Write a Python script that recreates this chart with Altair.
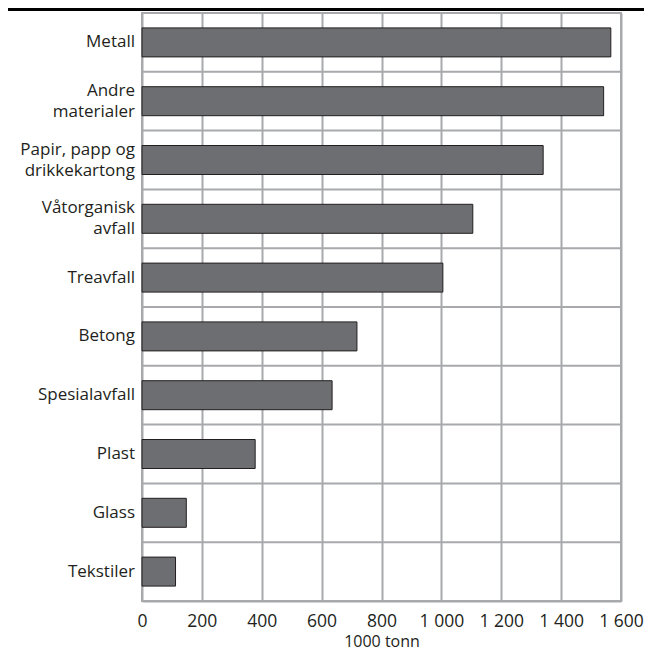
import altair as alt
import pandas as pd

categories = ["Metall", "Andre materialer", "Papir, papp og drikkekartong", "Våtorganisk avfall",
              "Treavfall", "Betong", "Spesialavfall", "Plast", "Glass", "Tekstiler"]
label_text = ["Metall", "Andre|materialer", "Papir, papp og|drikkekartong",
              "Våtorganisk|avfall", "Treavfall", "Betong", "Spesialavfall",
              "Plast", "Glass", "Tekstiler"]
values = [1566, 1542, 1340, 1105, 1005, 718, 635, 378, 148, 112]
x_ticks = [0, 200, 400, 600, 800, 1000, 1200, 1400, 1600]

df = pd.DataFrame({"kategori": categories, "verdi": values, "etikett": label_text})

FONT = "Open Sans"
FS = 17
GRID = "#a7a9ac"
TEXT = "#231f20"
W = 479

ysc = alt.Scale(paddingInner=0, paddingOuter=0)
Y = alt.Y("kategori:N", sort=categories, scale=ysc, axis=None)

base = alt.Chart(df)

bars = base.mark_bar(color="#6d6e71", stroke="#231f20", strokeWidth=1, size=29).encode(
    y=Y,
    x=alt.X("verdi:Q", scale=alt.Scale(domain=[0, 1600], nice=False),
            axis=alt.Axis(title="1000 tonn", values=x_ticks, ticks=False, labelPadding=11,
                          labelFontSize=17.5, labelFont=FONT, labelColor=TEXT,
                          labelExpr="replace(format(datum.value, ','), ',', ' ')",
                          titleFontSize=16, titleFont=FONT, titleColor=TEXT,
                          titleFontWeight="normal", titlePadding=4,
                          grid=True, gridColor=GRID, gridWidth=2,
                          domainColor=GRID, domainWidth=2, labelOverlap=False,
                          labelFlush=False)),
)

hgrid = base.mark_rule(color=GRID, strokeWidth=2).encode(
    y=alt.Y("kategori:N", sort=categories, scale=ysc, axis=None, bandPosition=0),
    x=alt.value(0), x2=alt.value(W),
)

labels1 = base.transform_filter("indexof(datum.etikett, '|') < 0").mark_text(
    align="right", baseline="middle", font=FONT, fontSize=FS, color=TEXT, dx=-7
).encode(y=Y, x=alt.value(0), text="etikett:N")

labels2a = base.transform_filter("indexof(datum.etikett, '|') >= 0").transform_calculate(
    l1="split(datum.etikett, '|')[0]"
).mark_text(
    align="right", baseline="middle", font=FONT, fontSize=FS, color=TEXT, dx=-7, dy=-10.5
).encode(y=Y, x=alt.value(0), text="l1:N")

labels2b = base.transform_filter("indexof(datum.etikett, '|') >= 0").transform_calculate(
    l2="split(datum.etikett, '|')[1]"
).mark_text(
    align="right", baseline="middle", font=FONT, fontSize=FS, color=TEXT, dx=-7, dy=10.5
).encode(y=Y, x=alt.value(0), text="l2:N")

top_rule = base.mark_rule(color="#000000", strokeWidth=3, clip=False).encode(
    x=alt.value(-134), x2=alt.value(W + 23), y=alt.value(-4)
)

chart = alt.layer(hgrid, bars, labels1, labels2a, labels2b, top_rule).properties(
    width=W, height=588,
    autosize=alt.AutoSizeParams(type="none"),
    padding={"left": 134, "top": 5, "right": 23, "bottom": 50},
).configure_view(stroke=GRID, strokeWidth=2)

chart.save("out.html", embed_options={"renderer": "svg", "actions": False})
